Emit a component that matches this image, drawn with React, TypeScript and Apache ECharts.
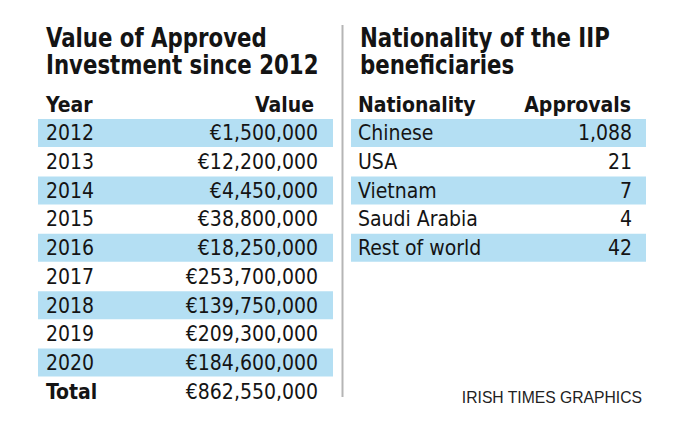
import React, { useEffect, useRef } from "react";
import * as echarts from "echarts";

const years = ["2012", "2013", "2014", "2015", "2016", "2017", "2018", "2019", "2020"];
const investmentValues = [1500000, 12200000, 4450000, 38800000, 18250000, 253700000, 139750000, 209300000, 184600000];
const totalLabel = "Total";
const totalValue = 862550000;
const nationalities = ["Chinese", "USA", "Vietnam", "Saudi Arabia", "Rest of world"];
const approvals = [1088, 21, 7, 4, 42];

const leftTitle = ["Value of Approved", "Investment since 2012"];
const rightTitle = ["Nationality of the IIP", "beneficiaries"];
const leftHeaders = ["Year", "Value"];
const rightHeaders = ["Nationality", "Approvals"];
const credit = "IRISH TIMES GRAPHICS";

const FONT = "'DejaVu Sans Condensed', 'DejaVu Sans', sans-serif";
const BAND = "#b4dff3";
const INK = "#141414";

const fmt = (n: number) => n.toLocaleString("en-US");

type Row = { label: string; value: string; shaded: boolean; bold: boolean };

const leftRows: Row[] = [
  ...years.map((y, i) => ({ label: y, value: "€" + fmt(investmentValues[i]), shaded: i % 2 === 0, bold: false })),
  { label: totalLabel, value: "€" + fmt(totalValue), shaded: false, bold: true },
];
const rightRows: Row[] = nationalities.map((n, i) => ({
  label: n,
  value: fmt(approvals[i]),
  shaded: i % 2 === 0,
  bold: false,
}));

function makeRender(rows: Row[], padL: number, padR: number) {
  return (params: any, api: any) => {
    const i = params.dataIndex;
    const row = rows[i];
    const p = api.coord([0, api.value(1)]);
    const s = api.size([1, 1]);
    const w = s[0];
    const h = s[1];
    const children: any[] = [];
    if (row.shaded) {
      children.push({
        type: "rect",
        shape: { x: p[0], y: p[1] - h / 2, width: w, height: h - 0.7 },
        style: { fill: BAND },
      });
    }
    const base = { fontFamily: FONT, fontSize: 21, fill: INK };
    children.push({
      type: "text",
      x: p[0] + padL,
      y: p[1],
      style: { ...base, fontWeight: row.bold ? "bold" : "normal", text: row.label, align: "left", verticalAlign: "middle" },
    });
    children.push({
      type: "text",
      x: p[0] + w - padR,
      y: p[1],
      style: { ...base, fontWeight: "normal", text: row.value, align: "right", verticalAlign: "middle" },
    });
    return { type: "group", children };
  };
}

export default function App() {
  const ref = useRef<HTMLDivElement>(null);
  useEffect(() => {
    if (!ref.current) return;
    const chart = echarts.init(ref.current, undefined, { renderer: "svg" });
    const titleStyle = { fontFamily: FONT, fontSize: 27, fontWeight: "bold", fill: INK, verticalAlign: "middle" };
    const headStyle = { fontFamily: FONT, fontSize: 21, fontWeight: "bold", fill: INK };
    const SX = 0.877;
    chart.setOption({
      animation: false,
      backgroundColor: "#ffffff",
      grid: [
        { left: 38, width: 295, top: 119, height: 287 },
        { left: 351, width: 295, top: 119, height: 143.5 },
      ],
      xAxis: [
        { type: "value", gridIndex: 0, min: 0, max: 1, show: false },
        { type: "value", gridIndex: 1, min: 0, max: 1, show: false },
      ],
      yAxis: [
        { type: "category", gridIndex: 0, inverse: true, data: leftRows.map((r) => r.label), show: false },
        { type: "category", gridIndex: 1, inverse: true, data: rightRows.map((r) => r.label), show: false },
      ],
      series: [
        {
          type: "custom",
          xAxisIndex: 0,
          yAxisIndex: 0,
          data: leftRows.map((r, i) => [0, i]),
          encode: { x: 0, y: 1 },
          renderItem: makeRender(leftRows, 8, 15),
        },
        {
          type: "custom",
          xAxisIndex: 1,
          yAxisIndex: 1,
          data: rightRows.map((r, i) => [0, i]),
          encode: { x: 0, y: 1 },
          renderItem: makeRender(rightRows, 7, 14),
        },
      ],
      graphic: [
        { type: "text", x: 46, y: 37.5, scaleX: SX, style: { ...titleStyle, text: leftTitle[0] } },
        { type: "text", x: 46, y: 64.5, scaleX: SX, style: { ...titleStyle, text: leftTitle[1] } },
        { type: "text", x: 360, y: 37.5, scaleX: SX, style: { ...titleStyle, text: rightTitle[0] } },
        { type: "text", x: 360, y: 64.5, scaleX: SX, style: { ...titleStyle, text: rightTitle[1] } },
        { type: "text", x: 46, y: 105, style: { ...headStyle, text: leftHeaders[0], verticalAlign: "middle" } },
        { type: "text", x: 314, y: 105, style: { ...headStyle, text: leftHeaders[1], align: "right", verticalAlign: "middle" } },
        { type: "text", x: 358, y: 105, style: { ...headStyle, text: rightHeaders[0], verticalAlign: "middle" } },
        { type: "text", x: 631, y: 105, style: { ...headStyle, text: rightHeaders[1], align: "right", verticalAlign: "middle" } },
        {
          type: "line",
          shape: { x1: 342.5, y1: 25, x2: 342.5, y2: 397 },
          style: { stroke: "#b5b5b5", lineWidth: 2 },
        },
        {
          type: "text",
          x: 642,
          y: 397.5,
          style: {
            text: credit,
            fontFamily: "'Liberation Sans', Arial, sans-serif",
            fontSize: 15.7,
            fill: "#222222",
            align: "right",
            verticalAlign: "middle",
          },
        },
      ],
    });
    return () => chart.dispose();
  }, []);
  return (
    <div
      ref={ref}
      style={{ position: "fixed", left: 0, top: 0, width: 683, height: 427, background: "#fff" }}
    />
  );
}
